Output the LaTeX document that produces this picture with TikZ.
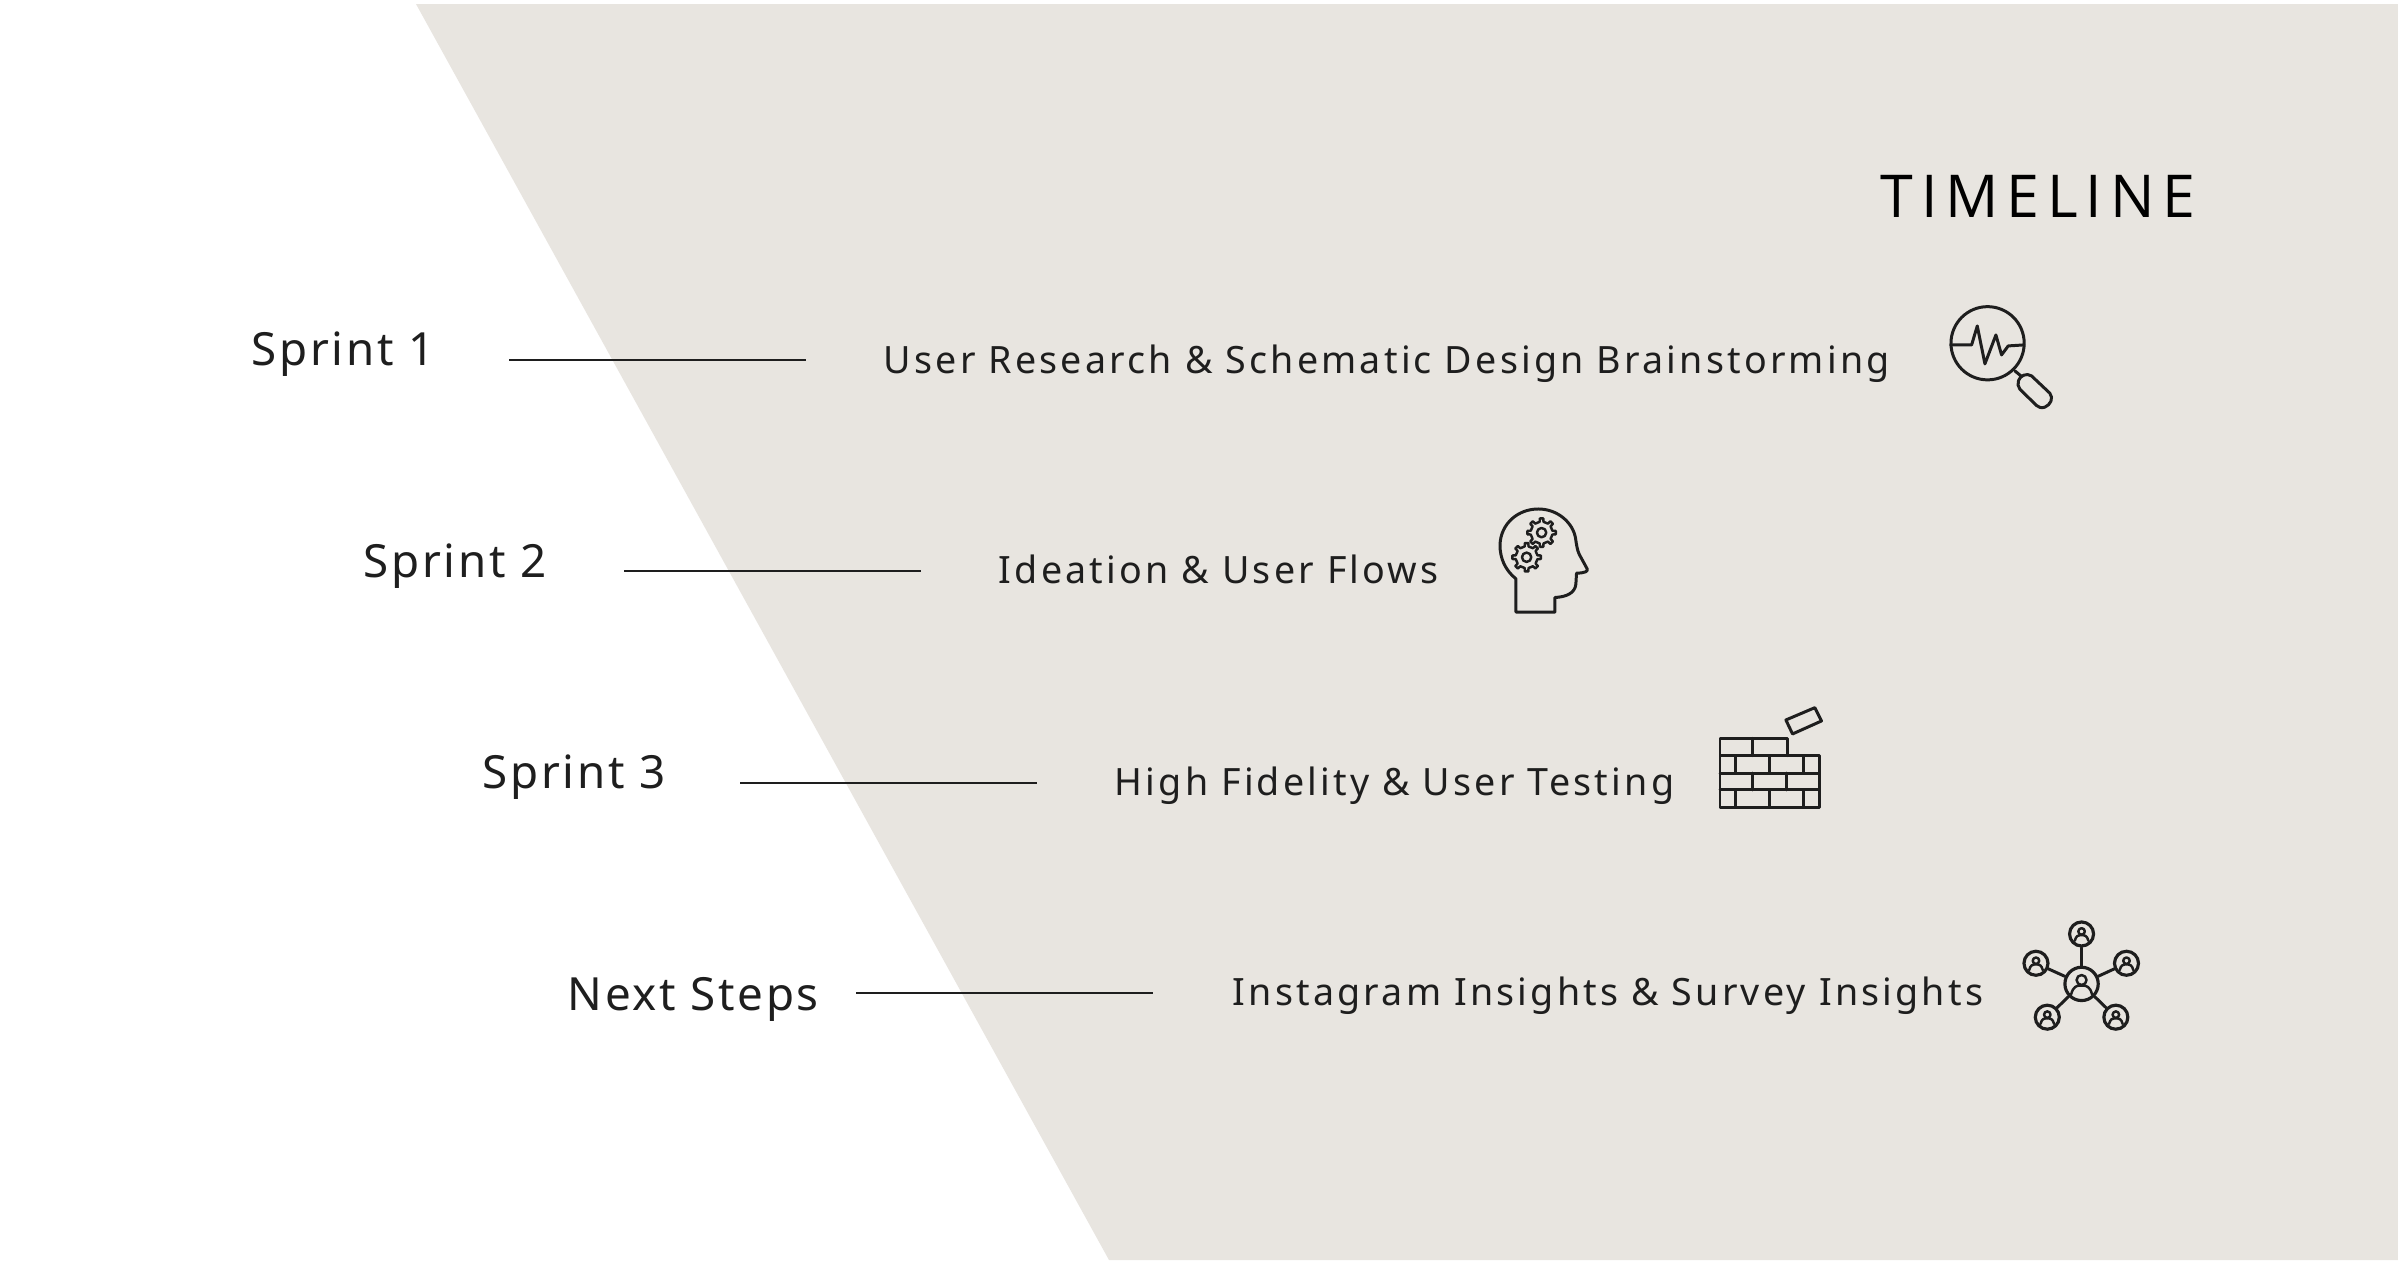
\documentclass[tikz,border=0pt]{standalone}
\usepackage{fontspec}
\setmainfont{Noto Sans}
\newfontfamily\bodyfont[LetterSpace=8.5]{Noto Sans}
\newfontfamily\sprintfont[LetterSpace=5.9]{Noto Sans}
\newfontfamily\titlefont[LetterSpace=13.2]{Open Sans}
\definecolor{panel}{HTML}{E8E5E0}
\definecolor{ink}{HTML}{1E1E1E}
\tikzset{
  bodytext/.style={anchor=base west,inner sep=0pt,text=ink,font=\bodyfont\fontsize{10.7}{14}\selectfont},
  sprinttext/.style={anchor=base west,inner sep=0pt,text=ink,font=\sprintfont\fontsize{13}{18}\selectfont},
  titletext/.style={anchor=base west,inner sep=0pt,text=black,font=\titlefont\fontsize{16.8}{20}\selectfont},
  leader/.style={draw=ink,line width=0.35pt},
  icon/.style={draw=ink,line width=0.85pt,line join=round,line cap=round},
  fineicon/.style={draw=ink,line width=0.7pt,line join=round,line cap=round},
  zoomed/.style={shift={#1},x=0.0033333cm,y=-0.0033333cm},
  hub/.style={circle,draw=ink,line width=0.9pt,inner sep=0pt,minimum size=#1}
}
\newcommand{\personmark}[3]{%
  \begin{scope}[shift={(#1,#2)},scale=#3]
    \draw[fineicon] (0,-9) circle (11.5);
    \draw[fineicon] (-24,24) .. controls (-20,6) and (-10,4) .. (-5,4) -- (5,4) .. controls (10,4) and (20,6) .. (24,24);
  \end{scope}}
\newcommand{\gearmark}[2]{%
  \begin{scope}[shift={(#1,#2)}]
    \draw[fineicon] (-10:33) foreach \a in {0,45,...,315} { -- (\a-10:33) -- (\a-7:43) -- (\a+7:43) -- (\a+10:33) } -- cycle;
    \draw[fineicon] (0,0) circle (14);
  \end{scope}}
\begin{document}
\begin{tikzpicture}[x=0.01cm,y=-0.01cm]
\useasboundingbox (0,0) rectangle (2398,1260);
\fill[white] (0,0) rectangle (2398,1260);
\fill[panel] (416,4) -- (2398,4) -- (2398,1260) -- (1109,1260) -- cycle;

\node[titletext] (title) at (1880,217) {TIMELINE};

\node[sprinttext] (s1) at (251,365) {Sprint 1};
\node[sprinttext] (s2) at (363,577) {Sprint 2};
\node[sprinttext] (s3) at (482,788) {Sprint 3};
\node[sprinttext] (s4) at (567,1010) {Next Steps};

\node[bodytext] (t1) at (883,373) {User Research \& Schematic Design Brainstorming};
\node[bodytext] (t2) at (998,583) {Ideation \& User Flows};
\node[bodytext] (t3) at (1114,795) {High Fidelity \& User Testing};
\node[bodytext] (t4) at (1232,1005) {Instagram Insights \& Survey Insights};

\coordinate (a1) at (509,360); \coordinate (b1) at (806,360);
\coordinate (a2) at (624,571); \coordinate (b2) at (921,571);
\coordinate (a3) at (740,783); \coordinate (b3) at (1037,783);
\coordinate (a4) at (856,993); \coordinate (b4) at (1153,993);
\draw[leader] (a1) -- (b1);
\draw[leader] (a2) -- (b2);
\draw[leader] (a3) -- (b3);
\draw[leader] (a4) -- (b4);

% magnifier
\begin{scope}[zoomed={(1920,290)}]
  \draw[icon] (203,160) circle (110);
  \draw[icon] (92,165) -- (155,165) -- (172,108) -- (195,222) -- (228,135) -- (245,195) -- (265,168) -- (312,165);
  \draw[icon] (285,243) -- (303,258);
  \draw[icon] (296,272) .. controls (300,258) and (320,248) .. (335,258) -- (390,310) .. controls (402,325) and (392,345) .. (375,352) .. controls (365,356) and (355,352) .. (350,347) -- (300,298) .. controls (294,290) and (293,282) .. (296,272) -- cycle;
\end{scope}

% head with gears
\begin{scope}[zoomed={(1480,495)}]
  \draw[icon] (108,352) -- (108,252) .. controls (75,225) and (60,190) .. (60,150)
    .. controls (62,85) and (115,42) .. (175,42)
    .. controls (235,42) and (280,85) .. (287,130)
    .. controls (290,150) and (292,165) .. (298,178)
    -- (322,222) .. controls (325,230) and (315,234) .. (290,235)
    -- (288,268) .. controls (285,295) and (260,306) .. (225,308)
    -- (225,352) -- cycle;
  \gearmark{185}{113}
  \gearmark{140}{187}
\end{scope}

% brick wall
\begin{scope}[zoomed={(1700,695)}]
  \draw[icon] (60,182) -- (60,130) -- (262,130) -- (262,182);
  \draw[icon] (60,182) rectangle (358,337);
  \draw[icon] (60,235) -- (358,235);
  \draw[icon] (60,285) -- (358,285);
  \draw[icon] (158,130) -- (158,182);
  \draw[icon] (108,182) -- (108,235);
  \draw[icon] (210,182) -- (210,235);
  \draw[icon] (310,182) -- (310,235);
  \draw[icon] (158,235) -- (158,285);
  \draw[icon] (260,235) -- (260,285);
  \draw[icon] (108,285) -- (108,337);
  \draw[icon] (210,285) -- (210,337);
  \draw[icon] (310,285) -- (310,337);
  \draw[icon] (258,75) -- (345,38) -- (365,78) -- (278,117) -- cycle;
\end{scope}

% network
\begin{scope}[zoomed={(2005,910)}]
  \node[hub=0.333cm] (hubc) at (230,222) {};
  \node[hub=0.24cm] (hub1) at (230,72) {};
  \node[hub=0.24cm] (hub2) at (93,160) {};
  \node[hub=0.24cm] (hub3) at (365,160) {};
  \node[hub=0.24cm] (hub4) at (127,322) {};
  \node[hub=0.24cm] (hub5) at (333,322) {};
  \draw[icon] (hubc) -- (hub1);
  \draw[icon] (hubc) -- (hub2);
  \draw[icon] (hubc) -- (hub3);
  \draw[icon] (hubc) -- (hub4);
  \draw[icon] (hubc) -- (hub5);
  \personmark{230}{222}{1.3}
  \personmark{230}{72}{0.85}
  \personmark{93}{160}{0.85}
  \personmark{365}{160}{0.85}
  \personmark{127}{322}{0.85}
  \personmark{333}{322}{0.85}
\end{scope}
\end{tikzpicture}
\end{document}
